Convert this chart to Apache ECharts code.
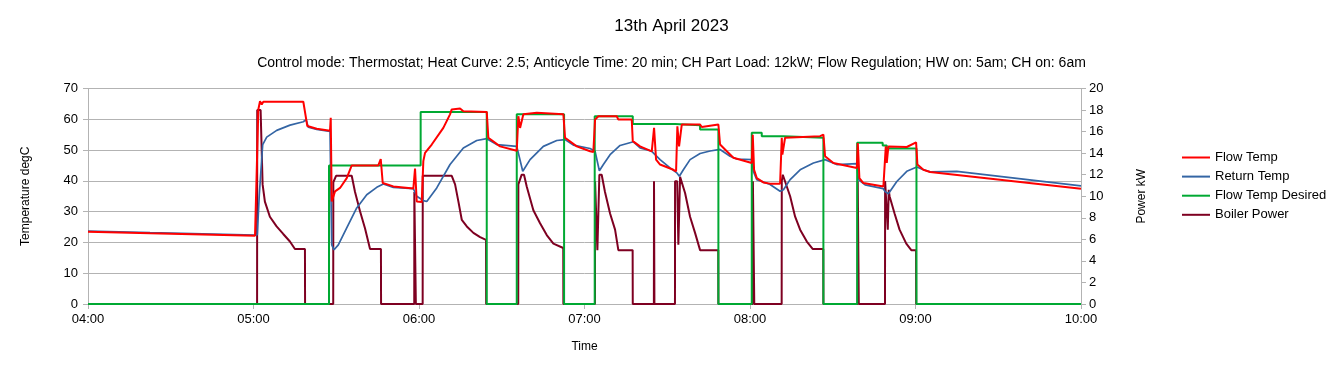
<!DOCTYPE html>
<html>
<head>
<meta charset="utf-8">
<script src="https://cdn.jsdelivr.net/npm/echarts@6/dist/echarts.min.js"></script>
<style>
html,body{margin:0;padding:0;background:#fff;}
#chart{width:1343px;height:372px;}
</style>
</head>
<body>
<div id="chart"></div>
<script>
// Times are minutes since midnight (04:00 = 240, 10:00 = 600)
const flowTempTimes = [240,262.48,300.55,301.17,301.75,302.36,302.98,303.56,318.06,318.68,319.51,322.92,327.74,328.0,328.36,329.56,331.37,333.8,335.61,345.26,346.13,346.85,350.7,357.95,358.56,359.18,360.99,361.57,362.19,364.62,368.82,371.25,371.87,374.88,376.08,384.56,385.14,389.38,395.44,396.02,396.64,397.83,402.69,412.34,412.95,417.19,422.02,423.21,423.83,425.03,425.64,431.7,432.27,437.13,437.5,440.14,444.39,445.22,445.95,447.4,452.22,453.2,453.67,454.29,455.26,461.9,462.51,468.54,469.15,471.58,473.97,480.64,481.0,481.48,482.46,484.85,487.28,490.91,491.52,491.74,492.72,505.41,506.61,507.22,510.23,518.71,519.08,519.66,521.11,528.36,529.23,529.59,530.17,536.84,540.22,540.69,542.86,545.29,600];
const flowTempValues = [23.5,23.0,22.2,22.5,63.2,65.9,64.8,65.7,65.7,66.1,57.8,56.9,56.3,60.5,33.3,36.6,37.7,40.9,45,45,47.1,39.3,38.2,37.5,44,33.3,33.1,46.4,49.1,51.8,57.2,61.6,63.2,63.5,62.6,62.4,54,51.2,49.8,61,57.2,61.6,62.1,61.6,54,51.2,49.6,49.4,59.9,61,61.2,61,59.9,59.9,52.9,51.2,49.6,57.2,46.9,45.3,43.6,43.1,57.7,51.2,58.3,58.3,57.5,58.3,51.8,49.6,47.5,45.8,55,43.6,40.9,39.5,39.1,39.1,54,48.5,54,54.5,55,48,45.8,44.2,52.3,40.9,39.3,38.2,51.2,45.8,51.2,51,52.5,45.3,43.6,42.9,37.4];

const returnTempTimes = [240,262.48,300.55,301.38,302.1,303.34,304.79,308.42,313.24,318.06,319.04,319.88,322.92,327.74,328.36,329.2,330.75,333.8,337.42,341.05,344.68,347.07,350.7,357.95,359.18,361.57,362.81,366.43,371.25,376.08,380.93,384.56,388.19,395.44,397.61,400.26,405.08,409.94,412.95,415.96,422.02,423.83,425.39,426.84,429.27,432.89,437.72,440.14,444.39,447.4,451.02,453.45,454.39,455.84,458.27,461.9,465.52,469.15,472.78,475.2,480.64,481.22,482.46,487.28,490.91,492.12,494.55,498.17,503.0,507.22,511.46,518.71,519.29,521.73,528.25,528.98,530.17,533.22,536.84,540.47,542.86,545.29,554.97,600];
const returnTempValues = [23.7,23.2,22.4,22.5,35.5,51.8,54.2,56.4,58.1,59.2,59.9,57.4,56.7,56.1,19.2,17.6,19.2,24.7,31.2,35.5,37.9,39,37.9,37.5,35,33.6,33.3,37.7,45.3,50.7,53.1,53.7,51.8,51.2,43.1,46.9,51.2,53.1,53.4,51.6,50.5,49.6,43.3,45.3,48.5,51.5,52.7,50.7,49.6,46.9,44.2,42.6,41.5,43.6,46.9,48.9,49.7,50.2,48,47.1,46.9,43.1,40.4,38.8,36.6,37.1,40.4,43.6,45.8,46.9,45.3,45.6,40.4,38.7,37.5,36.5,35.8,39.8,43.1,44.5,43.6,42.9,43.1,38.4];

const desiredTimes = [240,327.38,327.38,360.6,360.6,384.56,384.56,395.44,395.44,412.6,412.6,423.7,423.7,437.5,437.5,452.83,452.83,461.9,461.9,468.54,468.54,480.64,480.64,484.26,484.26,492.12,492.12,506.61,506.61,518.85,518.85,528.1,528.1,529.6,529.6,540.35,540.35,600];
const desiredValues = [0,0,45,45,62.4,62.4,0,0,61.6,61.6,0,0,61,61,58.5,58.5,58.1,58.1,56.7,56.7,0,0,55.6,55.6,54.5,54.5,54,54,0,0,52.4,52.4,51.5,51.5,50.5,50.5,0,0];

const powerTimes = [240,301.3,301.35,302.58,303.3,304.13,305.94,308.37,310.77,313.2,315.02,318.65,318.7,328.9,328.94,329.93,335.61,336.81,338.62,340.44,342.25,346.2,346.25,358.28,358.31,358.82,358.86,361.33,361.36,361.83,371.87,373.08,374.29,375.52,377.33,379.72,382.15,384.3,384.35,395.98,396.02,396.38,397.23,398.07,399.05,401.46,403.89,406.31,408.72,412.3,412.34,423.8,423.83,424.4,424.67,425.39,426.23,427.43,429.27,431.08,432.27,437.45,437.5,445.15,445.2,445.3,445.35,452.8,452.83,453.6,454.03,454.65,456.46,458.27,460.08,461.9,468.5,468.54,481.0,481.05,481.5,481.55,491.48,491.52,491.88,494.55,496.36,498.17,500.6,502.78,506.57,506.61,519.02,519.06,519.4,519.45,528.95,528.98,529.5,529.95,530.3,530.6,532.41,534.22,536.66,538.47,540.2,540.25,600];
const powerValues = [0,0,18,18,11.1,9.5,8.1,7.2,6.5,5.8,5.1,5.1,0,0,11.3,11.9,11.9,10.4,8.6,7.0,5.1,5.1,0,0,10.4,10.4,0,0,11.9,11.9,11.9,11.1,9.5,7.8,7.2,6.6,6.2,5.95,0,0,11.1,11.1,12,12,10.9,8.7,7.5,6.4,5.6,5.2,0,0,11.4,11.4,5.0,12,12,10.4,8.4,6.9,5,5,0,0,11.4,11.4,0,0,11.4,11.4,5.5,11.8,10.3,8.1,6.6,5,5,0,0,11.4,11.4,0,0,11.4,12,10,8.1,6.9,5.8,5.1,5.1,0,0,11.4,11.4,0,0,11.4,11.4,6.9,10.6,10,8.4,6.9,5.6,5,5,0,0];

const seriesNames = ['Flow Temp', 'Return Temp', 'Flow Temp Desired', 'Boiler Power'];

function pairs(t, v) { return t.map((x, i) => [x, v[i]]); }
function hhmm(m) {
  const h = Math.floor(m / 60), mm = Math.round(m % 60);
  return String(h).padStart(2, '0') + ':' + String(mm).padStart(2, '0');
}

const FONT = 'Liberation Sans, Arial, sans-serif';
const GRID = '#b3b3b3';
const LINE_ICON = 'path://M0,0L28,0L28,2L0,2Z';

const chart = echarts.init(document.getElementById('chart'), null, {renderer: 'canvas'});
chart.setOption({
  animation: false,
  backgroundColor: '#ffffff',
  title: {
    text: '13th April 2023',
    subtext: 'Control mode: Thermostat; Heat Curve: 2.5; Anticycle Time: 20 min; CH Part Load: 12kW; Flow Regulation; HW on: 5am; CH on: 6am',
    left: 'center',
    top: 13,
    itemGap: 21,
    textStyle: {fontFamily: FONT, fontSize: 17, fontWeight: 'normal', color: '#000'},
    subtextStyle: {fontFamily: FONT, fontSize: 14, color: '#000'}
  },
  legend: {
    orient: 'vertical',
    left: 1177,
    top: 146,
    itemWidth: 28,
    itemHeight: 12,
    itemGap: 6.1,
    textStyle: {fontFamily: FONT, fontSize: 13, color: '#000'},
    data: seriesNames.map(n => ({name: n, icon: LINE_ICON}))
  },
  grid: {left: 88, right: 262, top: 88.5, bottom: 68, containLabel: false},
  xAxis: {
    type: 'value',
    min: 240, max: 600, interval: 60,
    name: 'Time',
    nameLocation: 'middle',
    nameGap: 37,
    nameTextStyle: {fontFamily: FONT, fontSize: 12, color: '#000'},
    axisLine: {show: true, lineStyle: {color: GRID}},
    axisTick: {show: true, length: 5, lineStyle: {color: GRID}},
    axisLabel: {fontFamily: FONT, fontSize: 13, color: '#000', margin: 9, formatter: v => hhmm(v)},
    splitLine: {show: false}
  },
  yAxis: [{
    type: 'value',
    min: 0, max: 70, interval: 10,
    position: 'left',
    name: 'Temperature degC',
    nameLocation: 'middle',
    nameRotate: 90,
    nameGap: 56,
    nameTextStyle: {fontFamily: FONT, fontSize: 12, color: '#000'},
    axisLine: {show: true, lineStyle: {color: GRID}},
    axisTick: {show: true, length: 5, lineStyle: {color: GRID}},
    axisLabel: {fontFamily: FONT, fontSize: 13, color: '#000', margin: 10},
    splitLine: {show: true, lineStyle: {color: GRID, width: 1}}
  }, {
    type: 'value',
    min: 0, max: 20, interval: 2,
    position: 'right',
    name: 'Power kW',
    nameLocation: 'middle',
    nameRotate: 90,
    nameGap: 55,
    nameTextStyle: {fontFamily: FONT, fontSize: 12, color: '#000'},
    axisLine: {show: true, lineStyle: {color: GRID}},
    axisTick: {show: true, length: 5, lineStyle: {color: GRID}},
    axisLabel: {fontFamily: FONT, fontSize: 13, color: '#000', margin: 8},
    splitLine: {show: false}
  }],
  series: [{
    name: seriesNames[0], type: 'line', yAxisIndex: 0, z: 5,
    data: pairs(flowTempTimes, flowTempValues),
    symbol: 'none', color: '#ff0000', lineStyle: {width: 2, color: '#ff0000'}
  }, {
    name: seriesNames[1], type: 'line', yAxisIndex: 0, z: 3,
    data: pairs(returnTempTimes, returnTempValues),
    symbol: 'none', color: '#3465a4', lineStyle: {width: 1.7, color: '#3465a4'}
  }, {
    name: seriesNames[2], type: 'line', yAxisIndex: 0, z: 4,
    data: pairs(desiredTimes, desiredValues),
    symbol: 'none', color: '#00a933', lineStyle: {width: 2, color: '#00a933'}
  }, {
    name: seriesNames[3], type: 'line', yAxisIndex: 1, z: 2,
    data: pairs(powerTimes, powerValues),
    symbol: 'none', color: '#7e0021', lineStyle: {width: 2, color: '#7e0021'}
  }]
});
</script>
</body>
</html>
